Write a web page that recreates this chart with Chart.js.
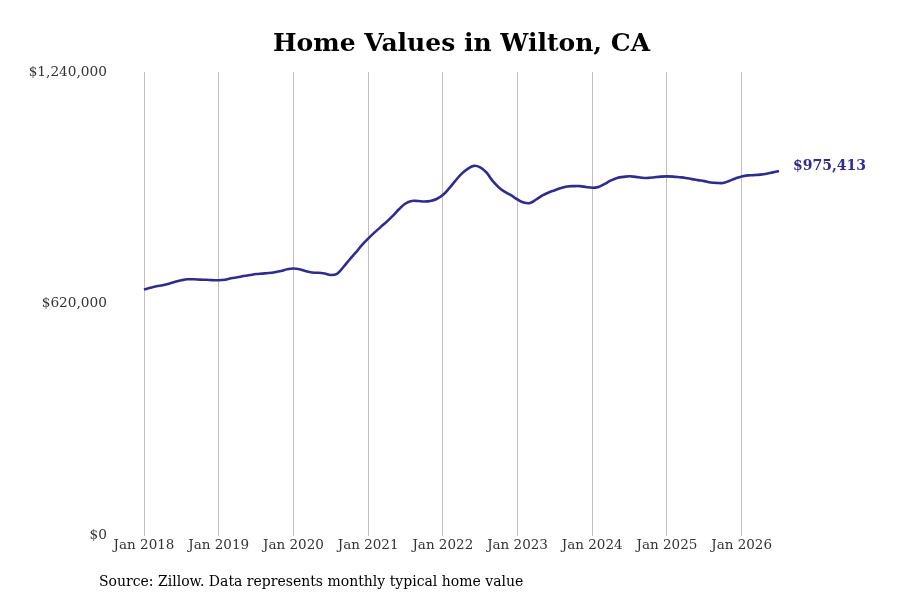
<!DOCTYPE html>
<html>
<head>
<meta charset="utf-8">
<script src="https://cdn.jsdelivr.net/npm/chart.js@4.4.1/dist/chart.umd.min.js"></script>
<style>
  html, body { margin: 0; padding: 0; background: #ffffff; }
  #wrap { width: 900px; height: 600px; position: relative; }
</style>
</head>
<body>
<div id="wrap"><canvas id="c" width="900" height="600"></canvas></div>
<script>
const titleText = "Home Values in Wilton, CA";
const sourceText = "Source: Zillow. Data represents monthly typical home value";
const monthNames = ["Jan","Feb","Mar","Apr","May","Jun","Jul","Aug","Sep","Oct","Nov","Dec"];
const years = [2018, 2019, 2020, 2021, 2022, 2023, 2024, 2025, 2026];
const yTicks = [0, 620000, 1240000];
const yTickLabels = ["$0", "$620,000", "$1,240,000"];
const endLabel = "$975,413";

// Monthly typical home value, Jan 2018 – Jul 2026
const homeValues = [
  658400, 662950, 666970, 669650, 673680, 679050, 683070, 685760, 685760, 684950, 684420, 683610,
  683070, 684420, 688440, 691130, 694350, 697030, 699720, 701060, 702400, 704550, 707770, 712600,
  714480, 712600, 707230, 703740, 703200, 701060, 697300, 700520, 717960, 738090, 756880, 777010,
  794460, 810560, 825320, 840090, 856190, 873640, 888400, 895110, 895110, 893770, 895110, 900480,
  911210, 928660, 948790, 967580, 981000, 989050, 985020, 971600, 948790, 931340, 919260, 909870,
  899130, 891080, 889740, 899130, 909870, 917920, 923830, 930000, 934030, 934830, 934830, 932680,
  930540, 932680, 940740, 950130, 956840, 959520, 961400, 959520, 957380, 956840, 958720, 960330,
  960870, 960330, 958720, 956840, 953620, 950930, 948250, 944760, 943420, 943420, 948790, 955500,
  960870, 963550, 964360, 965700, 968120, 971600, 975413
];

const labels = [];
for (let i = 0; i < homeValues.length; i++) {
  const y = years[0] + Math.floor(i / 12);
  labels.push(monthNames[i % 12] + " " + y);
}

const lineColor = "#2e2c8c";
const serif = "'DejaVu Serif', serif";

const textPlugin = {
  id: "texts",
  afterDraw(chart) {
    const ctx = chart.ctx;
    const area = chart.chartArea;
    ctx.save();
    ctx.fillStyle = "#000";
    ctx.font = "bold 25px " + serif;
    ctx.textAlign = "center";
    ctx.textBaseline = "middle";
    ctx.fillText(titleText, (area.left + area.right) / 2, 44);

    ctx.font = "14px " + serif;
    ctx.textAlign = "left";
    ctx.fillText(sourceText, 99, 582);

    const meta = chart.getDatasetMeta(0);
    const last = meta.data[meta.data.length - 1];
    ctx.fillStyle = lineColor;
    ctx.font = "bold 14px " + serif;
    ctx.textAlign = "left";
    ctx.fillText(endLabel, last.x + 14, last.y - 5);
    ctx.restore();
  }
};

new Chart(document.getElementById("c"), {
  type: "line",
  data: {
    labels: labels,
    datasets: [{
      data: homeValues,
      borderColor: lineColor,
      borderWidth: 2.6,
      pointRadius: 0,
      tension: 0.4,
      fill: false
    }]
  },
  options: {
    responsive: false,
    animation: false,
    layout: { padding: { top: 72, right: 121, bottom: 44, left: 26 } },
    plugins: { legend: { display: false }, title: { display: false }, tooltip: { enabled: false } },
    scales: {
      x: {
        type: "category",
        offset: false,
        border: { display: false },
        grid: {
          drawTicks: false,
          color: (c) => (c.index % 12 === 0 ? "#c0c0c0" : "rgba(0,0,0,0)"),
          lineWidth: 1
        },
        ticks: {
          autoSkip: false,
          maxRotation: 0,
          minRotation: 0,
          padding: 2,
          color: "#333",
          font: { family: serif, size: 13.5 },
          callback: function(v, i) { return i % 12 === 0 ? labels[i] : ""; }
        }
      },
      y: {
        min: yTicks[0],
        max: yTicks[yTicks.length - 1],
        border: { display: false },
        grid: { display: false, drawTicks: false },
        afterBuildTicks: (axis) => { axis.ticks = yTicks.map(v => ({ value: v })); },
        afterFit: (axis) => { axis.width = 118; },
        ticks: {
          padding: 37,
          color: "#333",
          font: { family: serif, size: 13.7 },
          callback: function(v) { const k = yTicks.indexOf(v); return k >= 0 ? yTickLabels[k] : ""; }
        }
      }
    }
  },
  plugins: [textPlugin]
});
</script>
</body>
</html>
